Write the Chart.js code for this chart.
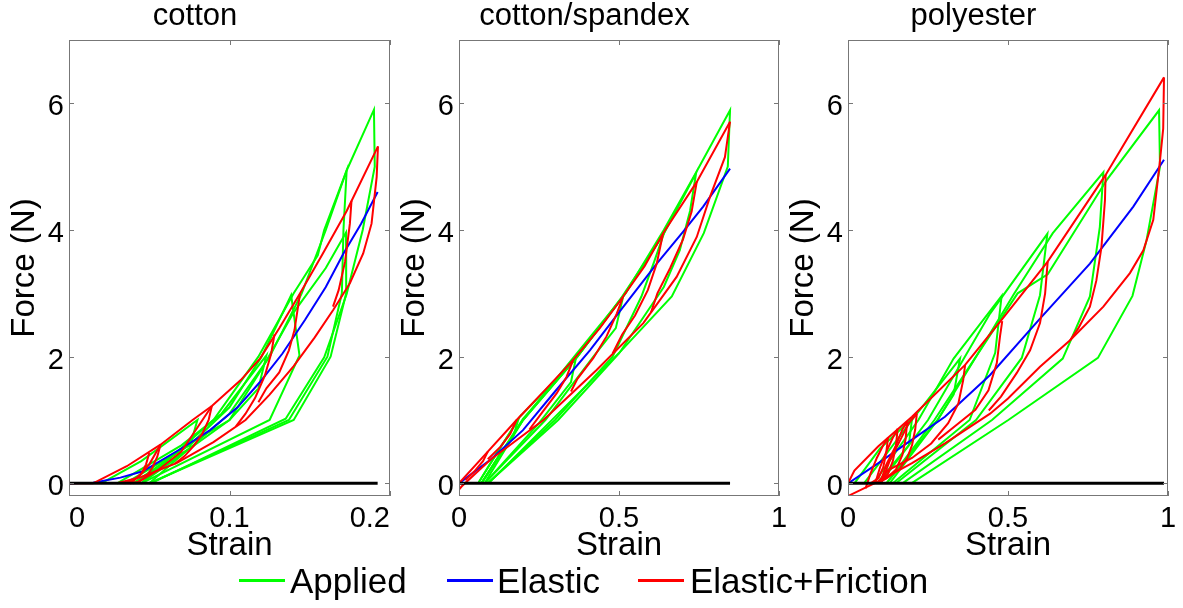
<!DOCTYPE html>
<html>
<head>
<meta charset="utf-8">
<script src="https://cdn.jsdelivr.net/npm/chart.js@4.4.1/dist/chart.umd.min.js"></script>
<style>
  body { margin: 0; background: #fff; width: 1183px; height: 608px; overflow: hidden; position: relative; font-family: "Liberation Sans", Arial, sans-serif; }
  canvas { position: absolute; top: 0; }
  .key { position: absolute; top: 579px; height: 3px; width: 46px; }
  .lbl { position: absolute; top: 563px; font-size: 35px; line-height: 35px; color: #000; white-space: nowrap; }
</style>
</head>
<body>
<canvas id="cotton" width="415" height="570" style="left:0px"></canvas>
<canvas id="spandex" width="414" height="570" style="left:390px"></canvas>
<canvas id="polyester" width="404" height="570" style="left:779px"></canvas>

<div class="key" style="left:239px;background:#00ff00"></div><div class="lbl" style="left:290px">Applied</div>
<div class="key" style="left:447px;background:#0000ff"></div><div class="lbl" style="left:497px">Elastic</div>
<div class="key" style="left:638px;background:#ff0000"></div><div class="lbl" style="left:690px">Elastic+Friction</div>

<script>
// strain / force pairs, one path per loop
const titles = ['cotton', 'cotton/spandex', 'polyester'];
const yTicks = [0, 2, 4, 6];

const cottonApplied = [
  [[0.02,0],[0.045,0.35],[0.08,1.0],[0.075,0.55],[0.04,0]],
  [[0.03,0],[0.07,0.6],[0.095,1.1],[0.123,2.02],[0.118,1.5],[0.1,1.0],[0.045,0]],
  [[0.035,0],[0.075,0.6],[0.1,1.2],[0.12,2.0],[0.1384,2.97],[0.1436,2.02],[0.125,1.0],[0.045,0]],
  [[0.04,0],[0.08,0.7],[0.1,1.0],[0.12,1.8],[0.14,2.7],[0.16,3.4],[0.1726,3.96],[0.1727,3.0],[0.163,2.0],[0.14,1.0],[0.05,0]],
  [[0.045,0],[0.09,1.0],[0.118,2.0],[0.14,3.0],[0.155,3.6],[0.159,4.0],[0.173,4.94],[0.171,4.0],[0.17,3.0],[0.161,2.0],[0.137,1.0],[0.05,0]],
  [[0.05,0],[0.1,1.1],[0.125,2.0],[0.145,3.0],[0.16,4.0],[0.173,4.94],[0.19,5.9],[0.1905,5.0],[0.183,4.0],[0.173,2.99],[0.159,1.99],[0.135,1.02],[0.051,0]]
];
const cottonElastic = [[0,0],[0.015,0.01],[0.032,0.09],[0.046,0.19],[0.07,0.55],[0.0879,0.84],[0.105,1.2],[0.119,1.6],[0.133,2.05],[0.147,2.58],[0.16,3.1],[0.171,3.63],[0.182,4.1],[0.1923,4.6]];
const cottonFriction = [
  [[0,0],[0.015,0],[0.036,0.27],[0.057,0.61],[0.077,1.0],[0.089,1.22],[0.107,1.63],[0.119,1.97],[0.131,2.45],[0.144,3.0],[0.158,3.62],[0.173,4.3],[0.1925,5.32]],
  [[0.1925,5.32],[0.1917,4.84],[0.1885,4.1],[0.1833,3.63],[0.175,3.16],[0.1647,2.74],[0.153,2.3],[0.14,1.85],[0.125,1.4],[0.11,1.0],[0.09,0.65],[0.067,0.32],[0.045,0.1],[0.03,0]],
  [[0.176,4.46],[0.175,4.1],[0.172,3.5],[0.168,3.05],[0.1645,2.79]],
  [[0.144,3.0],[0.143,2.84],[0.1405,2.42],[0.137,2.1],[0.131,1.75],[0.123,1.5],[0.118,1.28]],
  [[0.128,2.35],[0.126,2.05],[0.122,1.7],[0.116,1.35],[0.11,1.1],[0.104,0.9]],
  [[0.089,1.22],[0.087,1.0],[0.083,0.78],[0.078,0.6],[0.072,0.43],[0.066,0.31]],
  [[0.057,0.61],[0.055,0.42],[0.052,0.25],[0.048,0.1],[0.043,0.02],[0.038,0]],
  [[0.05,0.48],[0.048,0.3],[0.045,0.15],[0.04,0.04],[0.034,0]],
  [[0.038,0],[0.044,0.12],[0.05,0.3],[0.057,0.61]],
  [[0.043,0.02],[0.055,0.2],[0.07,0.5],[0.089,1.22]]
];
const cottonZero = [[0,0],[0.1923,0]];

const spandexApplied = [
  [[0.06,0],[0.12,0.5],[0.185,1.0],[0.17,0.75],[0.12,0.4],[0.07,0]],
  [[0.06,0],[0.19,1.05],[0.365,1.97],[0.35,1.6],[0.25,0.95],[0.08,0]],
  [[0.07,0],[0.2,1.0],[0.36,2.0],[0.513,2.95],[0.49,2.45],[0.42,2.0],[0.27,1.0],[0.08,0]],
  [[0.07,0],[0.2,1.02],[0.37,2.0],[0.51,2.95],[0.64,3.94],[0.61,3.5],[0.57,2.95],[0.48,2.0],[0.3,1.0],[0.09,0]],
  [[0.07,0],[0.2,1.0],[0.37,2.0],[0.52,3.0],[0.64,3.94],[0.741,4.9],[0.722,4.3],[0.69,3.68],[0.64,3.1],[0.5,2.05],[0.31,1.0],[0.09,0]],
  [[0.08,0],[0.2,1.0],[0.37,2.0],[0.52,3.0],[0.64,4.0],[0.74,4.9],[0.847,5.89],[0.84,5.0],[0.765,3.95],[0.665,2.95],[0.508,2.1],[0.3,1.05],[0.092,0]]
];
const spandexElastic = [[0,0],[0.1,0.38],[0.2,0.84],[0.3,1.45],[0.409,2.1],[0.5,2.7],[0.618,3.47],[0.7,3.97],[0.763,4.37],[0.847,4.97]];
const spandexFriction = [
  [[0,0],[0.09,0.5],[0.18,1.0],[0.27,1.48],[0.357,1.95],[0.44,2.45],[0.513,2.95],[0.58,3.43],[0.638,3.95],[0.743,4.76],[0.847,5.71]],
  [[0.847,5.71],[0.831,5.15],[0.784,4.52],[0.743,3.89],[0.68,3.26],[0.576,2.53],[0.43,1.79],[0.264,1.0],[0.097,0.37],[0.008,-0.05],[0,-0.1]],
  [[0.743,4.76],[0.727,4.29],[0.7,3.85],[0.66,3.4],[0.62,3.0],[0.6,2.7]],
  [[0.638,3.95],[0.618,3.47],[0.59,3.05],[0.55,2.65],[0.51,2.35],[0.48,2.05]],
  [[0.513,2.95],[0.493,2.68],[0.461,2.32],[0.42,1.98],[0.37,1.65],[0.35,1.45]],
  [[0.357,1.95],[0.336,1.68],[0.305,1.42],[0.26,1.12],[0.22,0.85]],
  [[0.18,1.0],[0.16,0.78],[0.13,0.58],[0.09,0.38]],
  [[0.09,0.5],[0.075,0.35],[0.05,0.2],[0.02,0.05]]
];
const spandexZero = [[0,0],[0.847,0]];

const polyesterApplied = [
  [[0.02,0],[0.1,0.55],[0.2,1.02],[0.19,0.6],[0.09,0]],
  [[0.05,0],[0.2,1.0],[0.35,1.97],[0.33,1.4],[0.28,1.0],[0.12,0]],
  [[0.08,0],[0.22,1.0],[0.33,1.97],[0.48,2.96],[0.46,2.06],[0.38,1.0],[0.14,0]],
  [[0.1,0],[0.25,1.0],[0.444,2.68],[0.623,3.94],[0.6,2.97],[0.543,1.98],[0.4,1.0],[0.15,0]],
  [[0.12,0],[0.27,1.0],[0.4,2.0],[0.52,3.0],[0.64,3.95],[0.798,4.91],[0.787,4.05],[0.756,2.95],[0.671,1.97],[0.45,1.0],[0.17,0]],
  [[0.13,0],[0.28,1.0],[0.4,2.0],[0.53,3.0],[0.624,3.3],[0.81,4.8],[0.972,5.89],[0.975,5.0],[0.933,3.84],[0.889,2.96],[0.781,1.98],[0.501,1.0],[0.198,0]]
];
const polyesterElastic = [[0,0],[0.095,0.32],[0.2,0.69],[0.303,1.05],[0.444,1.71],[0.6,2.6],[0.756,3.47],[0.8916,4.37],[0.9875,5.11]];
const polyesterFriction = [
  [[0,0],[0.02,0.2],[0.094,0.58],[0.2,1.05],[0.366,1.87],[0.48,2.58],[0.624,3.5],[0.805,4.87],[0.9875,6.41]],
  [[0.9875,6.41],[0.985,5.6],[0.975,5.1],[0.954,4.16],[0.923,3.68],[0.881,3.32],[0.798,2.79],[0.694,2.26],[0.6,1.84],[0.5,1.34],[0.444,1.1],[0.303,0.63],[0.2,0.32],[0.095,0.03],[0,-0.2]],
  [[0.805,4.87],[0.803,4.47],[0.792,3.73],[0.776,3.2],[0.756,2.79],[0.72,2.45],[0.694,2.26]],
  [[0.624,3.5],[0.616,3.0],[0.6,2.53],[0.569,2.1],[0.527,1.74],[0.478,1.37],[0.44,1.15]],
  [[0.482,2.56],[0.475,2.32],[0.465,1.9],[0.439,1.47],[0.398,1.16],[0.334,0.9],[0.282,0.69]],
  [[0.366,1.87],[0.36,1.63],[0.345,1.26],[0.313,0.95],[0.26,0.63],[0.2,0.4],[0.126,0.21],[0.1,0.05]],
  [[0.215,1.1],[0.21,0.85],[0.2,0.6],[0.185,0.4],[0.16,0.22],[0.12,0.08],[0.08,0]],
  [[0.185,0.98],[0.18,0.7],[0.17,0.45],[0.15,0.22],[0.12,0.08],[0.1,0.02]],
  [[0.155,0.86],[0.15,0.6],[0.14,0.35],[0.125,0.15],[0.1,0.02]],
  [[0.125,0.72],[0.12,0.5],[0.11,0.25],[0.095,0.08],[0.07,0]],
  [[0.055,-0.08],[0.07,0.15],[0.09,0.4],[0.11,0.6],[0.125,0.72]],
  [[0.085,0],[0.1,0.25],[0.12,0.5],[0.14,0.72],[0.155,0.86]],
  [[0.1,0],[0.12,0.3],[0.15,0.6],[0.17,0.85],[0.185,0.98]],
  [[0.105,0.02],[0.13,0.35],[0.16,0.65],[0.19,0.95],[0.215,1.1]]
];
const polyesterZero = [[0,0],[0.9875,0]];

const GREEN = '#00ff00', BLUE = '#0000ff', RED = '#ff0000';

function lineSet(path, color, width, order) {
  return {
    data: path.map(([x, y]) => ({x, y})),
    borderColor: color, borderWidth: width, pointRadius: 0,
    showLine: true, fill: false, tension: 0, order
  };
}

// matlab style box with inward ticks
const framePlugin = {
  id: 'frame',
  afterDraw(chart) {
    const {ctx, chartArea: a, scales: {x, y}} = chart;
    ctx.save();
    ctx.strokeStyle = '#777';
    ctx.lineWidth = 1;
    ctx.strokeRect(a.left + 0.5, a.top + 0.5, a.width - 1, a.height - 1);
    ctx.beginPath();
    x.ticks.forEach(t => {
      const px = Math.round(x.getPixelForValue(t.value)) + 0.5;
      ctx.moveTo(px, a.bottom); ctx.lineTo(px, a.bottom - 5);
      ctx.moveTo(px, a.top); ctx.lineTo(px, a.top + 5);
    });
    y.ticks.forEach(t => {
      const py = Math.round(y.getPixelForValue(t.value)) + 0.5;
      ctx.moveTo(a.left, py); ctx.lineTo(a.left + 5, py);
      ctx.moveTo(a.right, py); ctx.lineTo(a.right - 5, py);
    });
    ctx.stroke();
    ctx.restore();
  }
};

function makePanel(id, title, xMax, xStep, applied, elastic, friction, zero, padRight, tickAlign) {
  const datasets = [
    lineSet(zero, '#000', 3, 0),
    ...friction.map(p => lineSet(p, RED, 2, 1)),
    lineSet(elastic, BLUE, 2, 2),
    ...applied.map(p => lineSet(p, GREEN, 2, 3))
  ];
  new Chart(document.getElementById(id), {
    type: 'scatter',
    data: { datasets },
    options: {
      responsive: false,
      animation: false,
      layout: { padding: { left: 0, right: padRight, top: 0, bottom: 0 } },
      plugins: {
        legend: { display: false },
        tooltip: { enabled: false },
        title: {
          display: true, text: title, color: '#000',
          font: { family: 'Liberation Sans', size: 31, weight: 'normal', lineHeight: 1.0 },
          padding: { top: 1, bottom: 8 }
        }
      },
      scales: {
        x: {
          type: 'linear', min: 0, max: xMax,
          grid: { display: false, drawTicks: false },
          border: { display: false },
          ticks: {
            stepSize: xStep, color: '#000', padding: 6, maxRotation: 0, align: tickAlign,
            font: { family: 'Liberation Sans', size: 29 },
            callback: v => String(+v.toFixed(2))
          },
          title: {
            display: true, text: 'Strain', color: '#000',
            font: { family: 'Liberation Sans', size: 33 },
            padding: { top: 0, bottom: 4 }
          },
          afterFit(scale) { scale.height = 74; }
        },
        y: {
          type: 'linear', min: -0.2, max: 7,
          grid: { display: false, drawTicks: false },
          border: { display: false },
          afterBuildTicks(scale) { scale.ticks = yTicks.map(v => ({value: v})); },
          ticks: {
            color: '#000', padding: 5, labelOffset: 4,
            font: { family: 'Liberation Sans', size: 29 }
          },
          title: {
            display: true, text: 'Force (N)', color: '#000',
            font: { family: 'Liberation Sans', size: 33 },
            padding: { top: 5, bottom: 0 }
          },
          afterFit(scale) { scale.width = 69; }
        }
      }
    },
    plugins: [framePlugin]
  });
}

makePanel('cotton', titles[0], 0.2, 0.1, cottonApplied, cottonElastic, cottonFriction, cottonZero, 25, 'inner');
makePanel('spandex', titles[1], 1, 0.5, spandexApplied, spandexElastic, spandexFriction, spandexZero, 25, 'center');
makePanel('polyester', titles[2], 1, 0.5, polyesterApplied, polyesterElastic, polyesterFriction, polyesterZero, 15, 'center');
</script>
</body>
</html>
